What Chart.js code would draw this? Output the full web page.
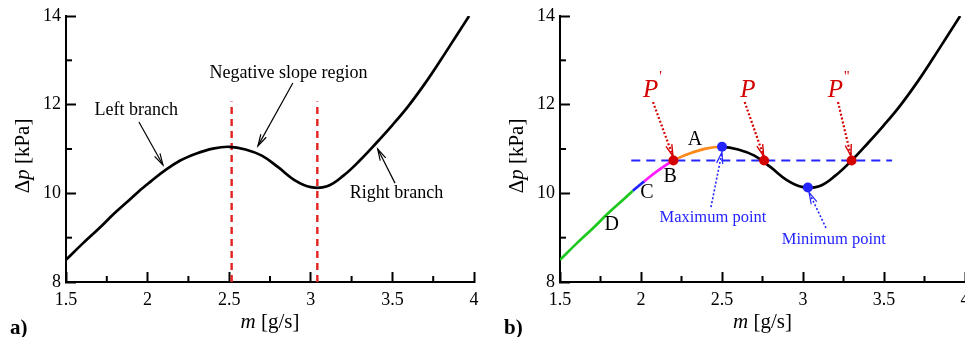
<!DOCTYPE html>
<html>
<head>
<meta charset="utf-8">
<script src="https://cdn.jsdelivr.net/npm/chart.js@4/dist/chart.umd.min.js"></script>
<style>
  html, body { margin: 0; padding: 0; background: #fff; overflow: hidden; width: 965px; height: 337px; }
  .panel { position: absolute; top: 0; height: 337px; }
  #panelA { left: 0; width: 480px; }
  #panelB { left: 480px; width: 500px; }
</style>
</head>
<body>
<div class="panel" id="panelA"><canvas id="chartA" width="480" height="337"></canvas></div>
<div class="panel" id="panelB"><canvas id="chartB" width="500" height="337"></canvas></div>
<script>
// Pressure drop characteristic: mass flow m [g/s] vs pressure drop [kPa]
const massFlow = [1.5, 1.6, 1.7, 1.8, 1.9, 1.95, 2.0, 2.02, 2.1, 2.2, 2.3, 2.4, 2.5, 2.6, 2.7, 2.8, 2.9, 3.0, 3.1, 3.2, 3.3, 3.4, 3.5, 3.6, 3.7, 3.8, 3.9, 3.97];
const pressureDrop = [8.50, 8.86, 9.20, 9.56, 9.89, 10.06, 10.21, 10.27, 10.50, 10.74, 10.90, 11.01, 11.05, 10.99, 10.85, 10.59, 10.30, 10.14, 10.16, 10.40, 10.74, 11.13, 11.54, 11.98, 12.48, 13.03, 13.60, 14.00];

// axis ticks (major labelled, minor halfway between)
const massTicks = [1.5, 2, 2.5, 3, 3.5, 4];
const massMinor = [1.75, 2.25, 2.75, 3.25, 3.75];
const dpTicks = [8, 10, 12, 14];
const dpMinor = [9, 11, 13];

// bounds of the negative slope region (panel a)
const slopeBoundsM = [2.515, 3.04];
const slopeBoundDp = [8, 12.07];

// operating level and its three intersections (panel b)
const levelM = [1.94, 3.55];
const levelDp = [10.74, 10.74];
const crossM = [2.2, 2.76, 3.3];
const crossDp = [10.74, 10.74, 10.74];

// maximum and minimum of the curve
const extremaM = [2.5, 3.03];
const extremaDp = [11.05, 10.13];

// colour bands along the left branch: D, C, B, A, then the rest
const bandStartM = [1.95, 2.02, 2.2, 2.5];
const bandColors = ['#1ec81e', '#1f1fff', '#ff1aff', '#ff8a1c', '#000000'];

const SERIF = '"Liberation Serif", "Times New Roman", serif';
const RED = '#d40000';
const BLUE = '#2424ff';

const pts = (xs, ys) => xs.map((v, i) => ({ x: v, y: ys[i] }));

function bandColor(m) {
  for (let i = 0; i < bandStartM.length; i++) if (m < bandStartM[i] - 1e-9) return bandColors[i];
  return bandColors[bandColors.length - 1];
}

function drawParts(ctx, parts, size, cx, cy) {
  let total = 0;
  const widths = parts.map(([t, st]) => { ctx.font = `${st}${size}px ${SERIF}`; const w = ctx.measureText(t).width; total += w; return w; });
  let xx = cx - total / 2;
  ctx.textAlign = 'left';
  parts.forEach(([t, st], i) => { ctx.font = `${st}${size}px ${SERIF}`; ctx.fillText(t, xx, cy); xx += widths[i]; });
}

// short inward minor tick marks
const minorTicks = {
  id: 'minorTicks',
  afterDraw(chart) {
    const ctx = chart.ctx, ca = chart.chartArea;
    const xs = chart.scales.x, ys = chart.scales.y;
    ctx.save();
    ctx.fillStyle = '#000000';
    massMinor.forEach(v => { const px = xs.getPixelForValue(v); ctx.fillRect(px - 1, ca.bottom - 6, 2, 6); });
    dpMinor.forEach(v => { const py = ys.getPixelForValue(v); ctx.fillRect(ca.left, py - 1, 6, 2); });
    ctx.restore();
  }
};

// axis titles and panel letter
const axisTitles = {
  id: 'axisTitles',
  afterDraw(chart, args, opts) {
    const ctx = chart.ctx, ca = chart.chartArea;
    ctx.save();
    ctx.fillStyle = '#000';
    ctx.textBaseline = 'middle';
    drawParts(ctx, [['m', 'italic '], [' [g/s]', '']], 21, (ca.left + ca.right) / 2, ca.bottom + 40);
    ctx.save();
    ctx.translate(ca.left - 43, (ca.top + ca.bottom) / 2 + 7);
    ctx.rotate(-Math.PI / 2);
    drawParts(ctx, [['Δ', ''], ['p', 'italic '], [' [kPa]', '']], 21, 0, 0);
    ctx.restore();
    ctx.font = `bold 21px ${SERIF}`;
    ctx.textAlign = 'left';
    ctx.fillText(opts.letter, ca.left - 56, ca.bottom + 47);
    ctx.restore();
  }
};

// text labels and arrows placed in data coordinates
const notes = {
  id: 'notes',
  afterDraw(chart, args, opts) {
    const { ctx, scales: { x, y } } = chart;
    const X = v => x.getPixelForValue(v), Y = v => y.getPixelForValue(v);
    ctx.save();
    ctx.lineCap = 'butt';
    for (const a of opts.arrows || []) {
      const x0 = X(a.from[0]), y0 = Y(a.from[1]), x1 = X(a.to[0]), y1 = Y(a.to[1]);
      ctx.strokeStyle = a.color; ctx.lineWidth = a.width;
      ctx.setLineDash(a.dash || []);
      ctx.beginPath(); ctx.moveTo(x0, y0); ctx.lineTo(x1, y1); ctx.stroke();
      const ang = Math.atan2(y1 - y0, x1 - x0), L = a.head || 12, h = 0.26;
      ctx.lineWidth = a.headWidth || a.width;
      ctx.setLineDash(a.headDash || []);
      ctx.beginPath();
      ctx.moveTo(x1 - L * Math.cos(ang - h), y1 - L * Math.sin(ang - h));
      ctx.lineTo(x1, y1);
      ctx.lineTo(x1 - L * Math.cos(ang + h), y1 - L * Math.sin(ang + h));
      ctx.stroke();
    }
    ctx.setLineDash([]);
    ctx.textBaseline = 'middle';
    ctx.textAlign = 'center';
    for (const t of opts.texts || []) {
      ctx.fillStyle = t.color || '#000';
      ctx.font = `${t.style || ''}${t.size}px ${SERIF}`;
      const cx = X(t.m), cy = Y(t.p);
      ctx.fillText(t.text, cx, cy);
      if (t.sup) {
        const w = ctx.measureText(t.text).width;
        ctx.font = `${Math.round(t.size * 0.6)}px ${SERIF}`;
        ctx.textAlign = 'left';
        ctx.fillText(t.sup, cx + w / 2 + 1, cy - t.size * 0.5);
        ctx.textAlign = 'center';
      }
    }
    ctx.restore();
  }
};

function scales(yWidth) {
  const tickFont = { family: SERIF, size: 18 };
  // major ticks come from the scale itself, drawn inward with a negative length
  const grid = { display: true, drawOnChartArea: false, drawTicks: true, tickLength: -10, tickWidth: 2, tickColor: '#000' };
  return {
    x: {
      type: 'linear', min: 1.5, max: 4,
      afterBuildTicks: s => { s.ticks = massTicks.map(v => ({ value: v })); },
      afterFit: s => { s.height = 55; s.paddingLeft = 0; s.paddingRight = 0; },
      ticks: { font: tickFont, color: '#000', padding: 17, maxRotation: 0, callback: v => String(v) },
      grid,
      border: { display: true, color: '#000', width: 2 }
    },
    y: {
      type: 'linear', min: 8, max: 14,
      afterBuildTicks: s => { s.ticks = dpTicks.map(v => ({ value: v })); },
      afterFit: s => { s.width = yWidth; s.paddingTop = 0; s.paddingBottom = 0; },
      ticks: { font: tickFont, color: '#000', padding: 15, callback: v => String(v) },
      grid,
      border: { display: true, color: '#000', width: 2 }
    }
  };
}

const common = {
  responsive: false,
  animation: false,
  events: [],
  plugins: { legend: { display: false }, tooltip: { enabled: false } }
};

const curveStyle = { borderWidth: 2.7, pointRadius: 0, tension: 0.4 };

// Panel a: the curve with its three regions
new Chart(document.getElementById('chartA'), {
  type: 'line',
  data: {
    datasets: [
      { data: pts(massFlow, pressureDrop), borderColor: '#000', ...curveStyle },
      { data: pts([slopeBoundsM[0], slopeBoundsM[0]], slopeBoundDp), borderColor: '#e32222', borderWidth: 2.4, borderDash: [7, 5], pointRadius: 0 },
      { data: pts([slopeBoundsM[1], slopeBoundsM[1]], slopeBoundDp), borderColor: '#e32222', borderWidth: 2.4, borderDash: [7, 5], pointRadius: 0 }
    ]
  },
  options: {
    ...common,
    layout: { padding: { top: 16, right: 6, left: 0, bottom: 0 } },
    scales: scales(66),
    plugins: {
      ...common.plugins,
      axisTitles: { letter: 'a)' },
      notes: {
        texts: [
          { text: 'Left branch', m: 1.93, p: 11.88, size: 18 },
          { text: 'Negative slope region', m: 2.863, p: 12.71, size: 18 },
          { text: 'Right branch', m: 3.525, p: 10.0, size: 18 }
        ],
        arrows: [
          { from: [1.947, 11.61], to: [2.094, 10.64], color: '#000', width: 1.2 },
          { from: [2.89, 12.49], to: [2.676, 11.07], color: '#000', width: 1.2 },
          { from: [3.516, 10.23], to: [3.41, 11.0], color: '#000', width: 1.2 }
        ]
      }
    }
  },
  plugins: [minorTicks, axisTitles, notes]
});

// Panel b: one operating level crossing the curve three times
new Chart(document.getElementById('chartB'), {
  type: 'line',
  data: {
    datasets: [
      { data: pts(crossM, crossDp), showLine: false, pointRadius: 5, pointBackgroundColor: RED, pointBorderColor: RED, pointBorderWidth: 0 },
      { data: pts(extremaM, extremaDp), showLine: false, pointRadius: 5, pointBackgroundColor: BLUE, pointBorderColor: BLUE, pointBorderWidth: 0 },
      { data: pts(massFlow, pressureDrop), borderColor: '#000', ...curveStyle,
        segment: { borderColor: c => bandColor(c.p0.parsed.x) } },
      { data: pts(levelM, levelDp), borderColor: BLUE, borderWidth: 2, borderDash: [9, 6], pointRadius: 0 }
    ]
  },
  options: {
    ...common,
    layout: { padding: { top: 16, right: 15, left: 0, bottom: 0 } },
    scales: scales(80),
    plugins: {
      ...common.plugins,
      axisTitles: { letter: 'b)' },
      notes: {
        texts: [
          { text: 'P', sup: "'", m: 2.06, p: 12.33, size: 25, style: 'italic ', color: RED },
          { text: 'P', m: 2.66, p: 12.33, size: 25, style: 'italic ', color: RED },
          { text: 'P', sup: "''", m: 3.20, p: 12.33, size: 25, style: 'italic ', color: RED },
          { text: 'A', m: 2.333, p: 11.2, size: 20 },
          { text: 'B', m: 2.18, p: 10.37, size: 20 },
          { text: 'C', m: 2.037, p: 10.01, size: 20 },
          { text: 'D', m: 1.82, p: 9.29, size: 20 },
          { text: 'Maximum point', m: 2.444, p: 9.44, size: 16.5, color: BLUE },
          { text: 'Minimum point', m: 3.19, p: 8.95, size: 16.5, color: BLUE }
        ],
        arrows: [
          { from: [2.074, 12.06], to: [2.197, 10.84], color: RED, width: 2.2, dash: [2, 2], headWidth: 1.4 },
          { from: [2.64, 12.06], to: [2.757, 10.84], color: RED, width: 2.2, dash: [2, 2], headWidth: 1.4 },
          { from: [3.216, 12.06], to: [3.296, 10.84], color: RED, width: 2.2, dash: [2, 2], headWidth: 1.4 },
          { from: [2.432, 9.69], to: [2.5, 10.93], color: BLUE, width: 1.6, dash: [2, 2], headWidth: 1.2 },
          { from: [3.142, 9.22], to: [3.037, 10.02], color: BLUE, width: 1.6, dash: [2, 2], headWidth: 1.2 }
        ]
      }
    }
  },
  plugins: [minorTicks, axisTitles, notes]
});
</script>
</body>
</html>
